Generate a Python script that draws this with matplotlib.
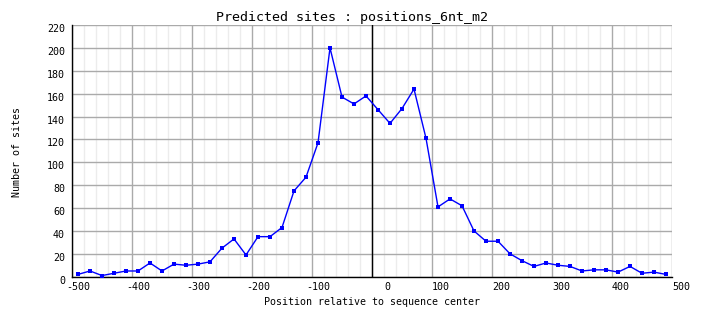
import matplotlib
matplotlib.use("Agg")
import matplotlib.pyplot as plt
import matplotlib.transforms as mtransforms
import numpy as np

# bin centres (relative to sequence center) and site counts
positions = list(range(-490, 500, 20))
counts = [
    2, 5, 1, 3, 5, 5, 12, 5, 11, 10,
    11, 13, 25, 33, 19, 35, 35, 43, 75, 87,
    117, 200, 157, 151, 158, 146, 134, 147, 164, 121,
    61, 68, 62, 40, 31, 31, 20, 14, 9, 12,
    10, 9, 5, 6, 6, 4, 9, 3, 4, 2,
]

x_ticks = list(range(-500, 501, 100))
x_ticklabels = [str(v) for v in x_ticks]
y_ticks = list(range(0, 221, 20))
y_ticklabels = [str(v) for v in y_ticks]

title = "Predicted sites : positions_6nt_m2"
xlabel = "Position relative to sequence center"
ylabel = "Number of sites"

MONO = "DejaVu Sans Mono"
W, H = 704, 328

fig = plt.figure(figsize=(W / 100, H / 100), dpi=100)
ax = fig.add_axes([72 / W, 1 - 276.7 / H, 600 / W, (276.7 - 25) / H])

ax.set_xlim(-500, 500)
ax.set_ylim(0, 220)

# grid: light minor verticals every 20, grey majors
ax.set_xticks(np.arange(-500, 501, 20), minor=True)
ax.grid(which="minor", axis="x", color="#ececec", linewidth=1.0)
ax.set_xticks(x_ticks)
ax.set_yticks(y_ticks)
ax.grid(which="major", color="#aaaaaa", linewidth=1.0)
ax.set_axisbelow(True)

ax.axvline(0, color="black", linewidth=1.0, zorder=2)

ax.plot(positions, counts, color="#0000ff", linewidth=1.0,
        marker="s", markersize=3.2, markeredgewidth=0, zorder=3)

for side in ("top", "right"):
    ax.spines[side].set_visible(False)
for side in ("left", "bottom"):
    ax.spines[side].set_color("black")
    ax.spines[side].set_linewidth(1.0)

ax.tick_params(which="both", length=0)
ax.set_xticklabels(x_ticklabels, fontfamily=MONO, fontsize=7.2)
ax.set_yticklabels(y_ticklabels, fontfamily=MONO, fontsize=7.2)
ax.tick_params(axis="x", pad=4)
ax.tick_params(axis="y", pad=5)

# GD-style label placement: x labels right-aligned past the tick, y labels a bit low
xshift = mtransforms.ScaledTranslation(18 / 100, 0, fig.dpi_scale_trans)
for lab in ax.get_xticklabels():
    lab.set_horizontalalignment("right")
    lab.set_transform(lab.get_transform() + xshift)
yshift = mtransforms.ScaledTranslation(0, -3 / 100, fig.dpi_scale_trans)
for lab in ax.get_yticklabels():
    lab.set_transform(lab.get_transform() + yshift)

fig.text(0.5, 1 - 17 / H, title, ha="center", va="center",
         fontfamily=MONO, fontsize=9.6)
fig.text(372 / W, 1 - 302 / H, xlabel, ha="center", va="center",
         fontfamily=MONO, fontsize=7.2)
fig.text(17.5 / W, 1 - 152 / H, ylabel, ha="center", va="center",
         rotation=90, fontfamily=MONO, fontsize=7.2)

fig.savefig("out.png", dpi=100)
